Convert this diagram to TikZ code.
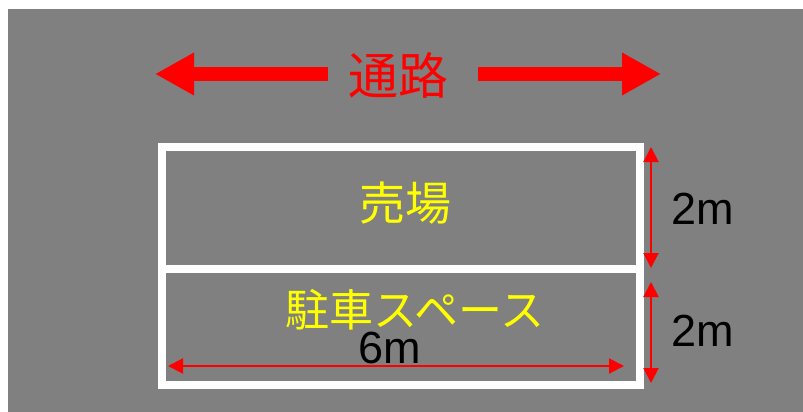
\documentclass[tikz,border=0pt]{standalone}
\usepackage{fontspec}
\setmainfont{Liberation Sans}
\newfontfamily\jpfont{Noto Sans CJK JP}
\usetikzlibrary{arrows.meta}
\definecolor{bggray}{RGB}{128,128,128}
\definecolor{myred}{RGB}{255,0,0}
\definecolor{myyellow}{RGB}{255,255,0}
\tikzset{
  bigarrow/.style={draw=myred, line width=14pt, -{Triangle[length=39pt,width=40pt]}, fill=myred},
  dimarrow/.style={draw=myred, line width=2pt, {Triangle[length=15pt,width=15pt]}-{Triangle[length=15pt,width=15pt]}},
  wallline/.style={draw=white, line width=8pt},
  jplabel/.style={inner sep=0pt, anchor=center},
  latlabel/.style={inner sep=0pt, anchor=base, font=\fontsize{45}{45}\selectfont},
}
\begin{document}
\begin{tikzpicture}[x=1pt,y=-1pt]
\useasboundingbox (0,0) rectangle (803,412);
\fill[bggray] (8,9) rectangle (803,412);
% aisle arrows
\coordinate (lstart) at (328,74);
\coordinate (ltip) at (155,74);
\coordinate (rstart) at (478,74);
\coordinate (rtip) at (661,74);
\draw[bigarrow] (lstart) -- (ltip);
\draw[bigarrow] (rstart) -- (rtip);
\node[jplabel, text=myred, font=\jpfont\fontsize{50}{50}\selectfont] (tsuro) at (398,75) {通路};
% plan
\coordinate (tl) at (162,147);
\coordinate (br) at (639.5,385);
\coordinate (ml) at (162,269);
\coordinate (mr) at (639.5,269);
\draw[wallline] (tl) rectangle (br);
\draw[wallline] (ml) -- (mr);
\node[jplabel, text=myyellow, font=\jpfont\fontsize{46}{46}\selectfont] (uriba) at (405,203) {売場};
\node[jplabel, text=myyellow, font=\jpfont\fontsize{44}{44}\selectfont] (chusha) at (415,310) {駐車スペース};
% dimensions
\coordinate (h1) at (168,366);
\coordinate (h2) at (624,366);
\node[latlabel] (six) at (390,363) {6m};
\draw[dimarrow] (h1) -- (h2);
\coordinate (v1) at (651,147);
\coordinate (v2) at (651,268);
\coordinate (v3) at (651,282);
\coordinate (v4) at (651,383);
\draw[dimarrow] (v1) -- (v2);
\draw[dimarrow] (v3) -- (v4);
\node[latlabel] (twoa) at (703,224) {2m};
\node[latlabel] (twob) at (703,346) {2m};
\end{tikzpicture}
\end{document}
